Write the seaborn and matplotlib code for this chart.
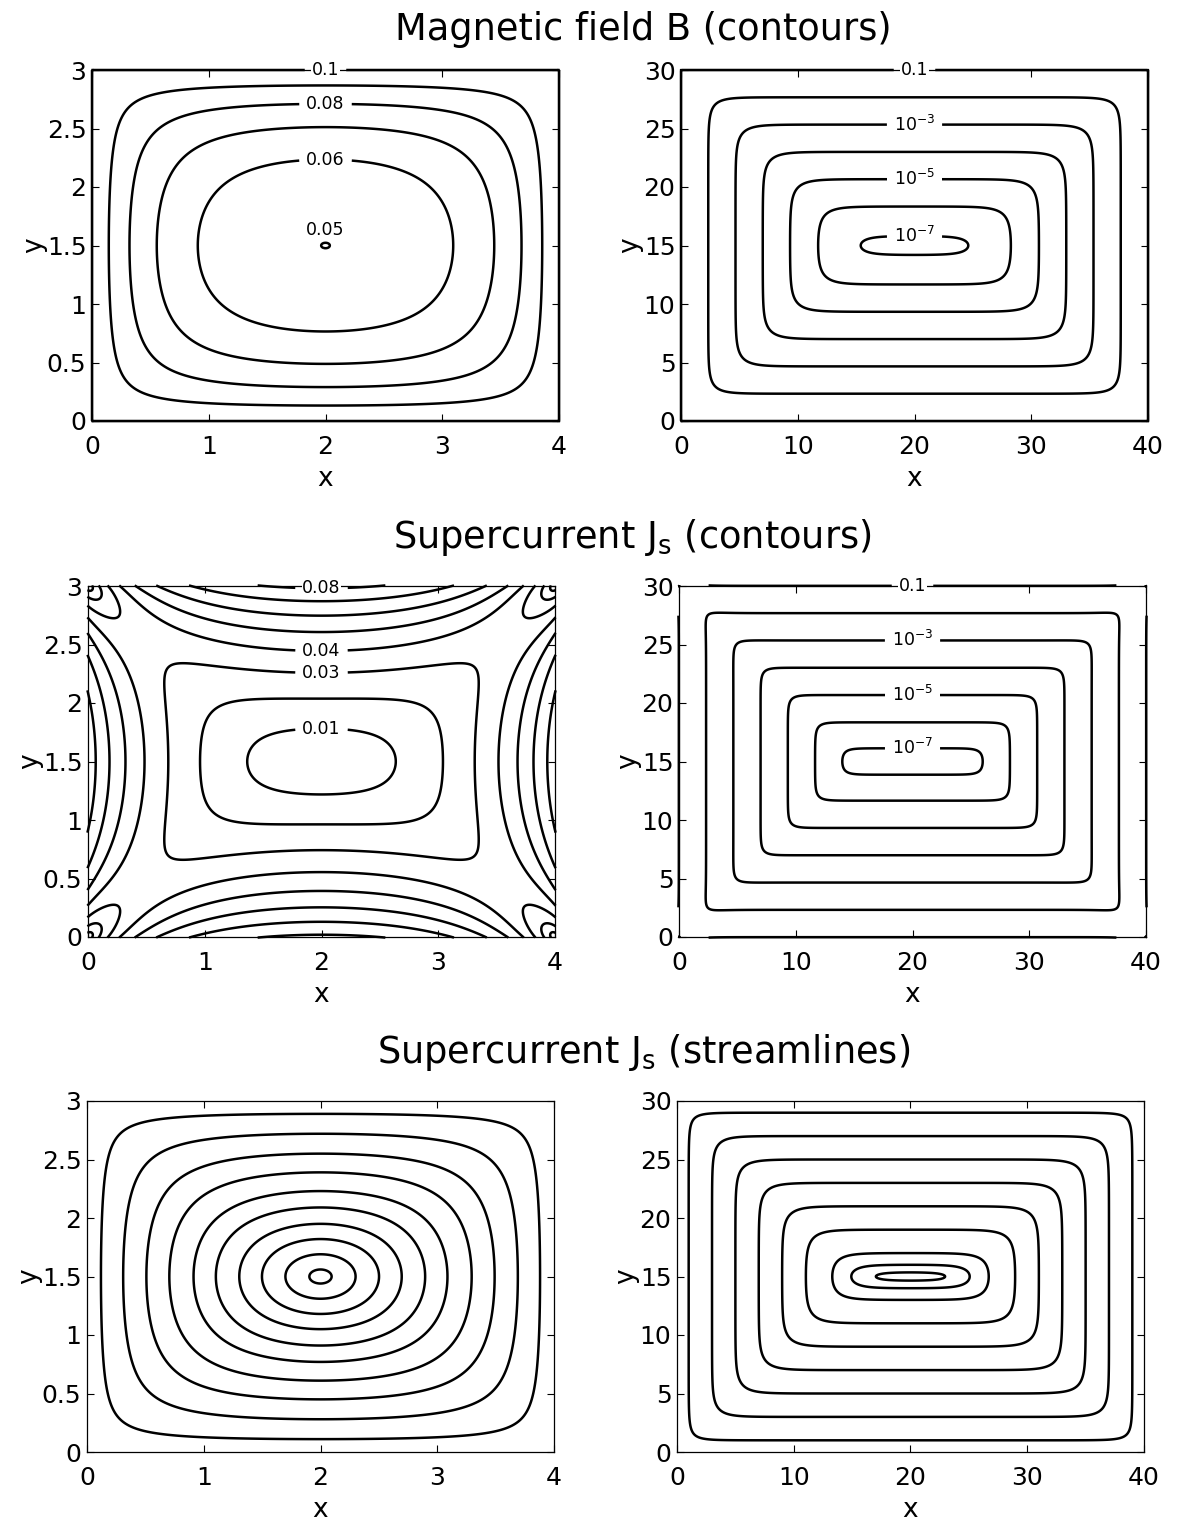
import numpy as np
import matplotlib
matplotlib.use("Agg")
import matplotlib.pyplot as plt
from matplotlib.ticker import FuncFormatter
import seaborn as sns

# ---------------------------------------------------------------------------
# Physical set-up: London equation  lap(B) = B / lambda^2  in a rectangle,
# with B = B_EDGE on the whole boundary.  Lengths are in units of lambda.
# ---------------------------------------------------------------------------
LAMBDA = 1.0135
B_EDGE = 0.1
small_size = (4.0, 3.0)
large_size = (40.0, 30.0)

# contour levels for the magnetic field
b_levels_small = [0.05, 0.06, 0.07, 0.08, 0.09, 0.1]
b_labeled_small = [0.06, 0.08, 0.1]
b_label_pos_small = [(2.0, 2.22), (2.0, 2.72), (2.0, 3.0)]
b_center_level = 0.05
b_center_text_pos = (2.0, 1.63)

log_levels = [1e-7, 1e-6, 1e-5, 1e-4, 1e-3, 1e-2, 0.1]
log_labeled = [1e-7, 1e-5, 1e-3, 0.1]
log_label_pos_b = [(20.0, 16.1), (20.0, 20.8), (20.0, 25.3), (20.0, 30.0)]
log_label_pos_j = [(20.0, 16.2), (20.0, 20.6), (20.0, 25.3), (20.0, 30.0)]

# contour levels for the supercurrent magnitude
j_levels_small = [0.01, 0.02, 0.03, 0.04, 0.05, 0.06, 0.07, 0.08]
j_labeled_small = [0.01, 0.03, 0.04, 0.08]
j_label_pos_small = [(2.0, 1.76), (2.0, 2.28), (2.0, 2.55), (2.0, 2.96)]

# streamline seed points (y on the vertical centre line x = a/2)
seeds_small = [1.56, 1.69, 1.82, 1.95, 2.09, 2.23, 2.39, 2.55, 2.72, 2.89]
seeds_large = [15.35, 16.0, 17.0, 19.0, 21.0, 23.0, 25.0, 27.0, 29.0]

# axis ticks
xticks_small = [0, 1, 2, 3, 4]
yticks_small = [0, 0.5, 1, 1.5, 2, 2.5, 3]
xticks_large = [0, 10, 20, 30, 40]
yticks_large = [0, 5, 10, 15, 20, 25, 30]

row_titles = ["Magnetic field B (contours)",
              r"Supercurrent J$_{\rm s}$ (contours)",
              r"Supercurrent J$_{\rm s}$ (streamlines)"]


def cosh_ratio(s, h):
    """cosh(s)/cosh(h) without overflow."""
    s = np.abs(s)
    return (np.exp(s - h) + np.exp(-s - h)) / (1.0 + np.exp(-2.0 * h))


def sinh_ratio(s, h):
    """sinh(s)/cosh(h) without overflow."""
    a = np.abs(s)
    return np.sign(s) * (np.exp(a - h) - np.exp(-a - h)) / (1.0 + np.exp(-2.0 * h))


def london_field(a, b, lam, b0, nx=801, ny=601, n_modes=1000):
    """Series solution of the London equation; returns x, y, B, |J|."""
    x = np.linspace(0.0, a, nx)
    y = np.linspace(0.0, b, ny)
    m = 2 * np.arange(n_modes) + 1
    k = m * np.pi / b
    q = np.sqrt(k ** 2 + lam ** -2)
    c = 4.0 / (m * np.pi) * lam ** -2 / (k ** 2 + lam ** -2)

    f = cosh_ratio((y - b / 2) / lam, b / (2 * lam))
    fp = sinh_ratio((y - b / 2) / lam, b / (2 * lam)) / lam

    s = np.outer(q, x - a / 2)
    h = (q * a / 2)[:, None]
    cx = cosh_ratio(s, h)
    sx = sinh_ratio(s, h) * q[:, None]
    sy = np.sin(np.outer(k, y)) * c[:, None]
    cy = np.cos(np.outer(k, y)) * (c * k)[:, None]

    B = b0 * (f[:, None] + sy.T @ cx)
    By = b0 * (fp[:, None] + cy.T @ cx)
    Bx = b0 * (sy.T @ sx)
    return x, y, B, np.hypot(Bx, By)


def pad_edges(x, y, Z):
    """Extend the grid by one cell on each side (linear extrapolation)."""
    hx, hy = x[1] - x[0], y[1] - y[0]
    xp = np.r_[x[0] - hx, x, x[-1] + hx]
    yp = np.r_[y[0] - hy, y, y[-1] + hy]
    Z = np.vstack([2 * Z[0] - Z[1], Z, 2 * Z[-1] - Z[-2]])
    Z = np.hstack([2 * Z[:, :1] - Z[:, 1:2], Z, 2 * Z[:, -1:] - Z[:, -2:-1]])
    return xp, yp, Z


def fmt_plain(v):
    return f"{v:g}"


def fmt_pow(v):
    if abs(v - 0.1) < 1e-12:
        return "0.1"
    return r"$10^{%d}$" % int(round(np.log10(v)))


# ---------------------------------------------------------------------------
sns.set_theme(style="ticks", rc={
    "xtick.direction": "in", "ytick.direction": "in",
    "xtick.top": True, "ytick.right": True,
    "axes.linewidth": 0.9, "axes.edgecolor": "black",
    "xtick.color": "black", "ytick.color": "black",
    "text.color": "black", "axes.labelcolor": "black",
})
plt.rcParams["font.family"] = ["DejaVu Sans"]
plt.rcParams["mathtext.fontset"] = "dejavusans"

W, H = 1183, 1526
fig = plt.figure(figsize=(W / 100, H / 100), dpi=100)
fig.patch.set_facecolor("white")


def new_axes(left_px, top_px, w_px=467, h_px=351):
    return fig.add_axes([left_px / W, 1 - (top_px + h_px) / H, w_px / W, h_px / H])


def style_axes(ax, size, xt, yt):
    ax.set_xlim(0, size[0])
    ax.set_ylim(0, size[1])
    ax.set_xticks(xt)
    ax.set_yticks(yt)
    fm = FuncFormatter(lambda v, p: f"{v:g}")
    ax.xaxis.set_major_formatter(fm)
    ax.yaxis.set_major_formatter(fm)
    ax.tick_params(axis="both", which="major", direction="in", length=5,
                   width=0.8, top=True, right=True, labelsize=18)
    ax.tick_params(axis="x", pad=10)
    ax.tick_params(axis="y", pad=4)
    ax.set_xlabel("x", fontsize=19, labelpad=5)
    ax.set_ylabel("y", fontsize=19, labelpad=0)
    ax.set_facecolor("white")


def draw_contours(ax, x, y, Z, levels, labeled=(), positions=None, fmt=fmt_plain):
    xp, yp, Zp = pad_edges(x, y, Z)
    plain = [v for v in levels if not any(np.isclose(v, labeled))]
    sets = []
    if plain:
        sets.append(ax.contour(xp, yp, Zp, levels=plain, colors="black",
                               linewidths=1.8, zorder=3))
    if len(labeled):
        cs = ax.contour(xp, yp, Zp, levels=sorted(labeled), colors="black",
                        linewidths=1.8, zorder=3)
        texts = cs.clabel(manual=positions, inline=True, inline_spacing=7,
                          fmt=fmt, fontsize=12.5)
        for t in texts:
            t.set_bbox(dict(facecolor="white", edgecolor="none", pad=0.3))
            t.set_zorder(5)
            t.set_clip_on(False)
        sets.append(cs)
    for cs in sets:
        cs.set_clip_on(False)


# fields
xs, ys, Bs, Js = london_field(*small_size, LAMBDA, B_EDGE)
xl, yl, Bl, Jl = london_field(*large_size, LAMBDA, B_EDGE)

# --- row 1: magnetic field ---------------------------------------------------
ax = new_axes(92, 70)
style_axes(ax, small_size, xticks_small, yticks_small)
draw_contours(ax, xs, ys, Bs, b_levels_small, b_labeled_small, b_label_pos_small)
ax.text(*b_center_text_pos, fmt_plain(b_center_level), ha="center", va="center",
        fontsize=12.5, zorder=5)

ax = new_axes(681, 70)
style_axes(ax, large_size, xticks_large, yticks_large)
draw_contours(ax, xl, yl, Bl, log_levels, log_labeled, log_label_pos_b, fmt_pow)

# --- row 2: supercurrent magnitude ------------------------------------------
ax = new_axes(88, 586)
style_axes(ax, small_size, xticks_small, yticks_small)
draw_contours(ax, xs, ys, Js, j_levels_small, j_labeled_small, j_label_pos_small)

ax = new_axes(679, 586)
style_axes(ax, large_size, xticks_large, yticks_large)
draw_contours(ax, xl, yl, Jl, log_levels, log_labeled, log_label_pos_j, fmt_pow)

# --- row 3: streamlines of J = level lines of B through the seed points -----
ic = len(xs) // 2
stream_levels_small = np.interp(seeds_small, ys, Bs[:, ic])
ax = new_axes(87, 1101)
style_axes(ax, small_size, xticks_small, yticks_small)
draw_contours(ax, xs, ys, Bs, list(stream_levels_small))

ic = len(xl) // 2
stream_levels_large = np.interp(seeds_large, yl, Bl[:, ic])
ax = new_axes(677, 1101)
style_axes(ax, large_size, xticks_large, yticks_large)
draw_contours(ax, xl, yl, Bl, list(stream_levels_large))

# row titles
for (cx, base), title in zip([(643, 40), (632, 548), (644, 1063)], row_titles):
    fig.text(cx / W, 1 - base / H, title, ha="center", va="baseline", fontsize=26.5)

fig.savefig("out.png", dpi=100, facecolor="white")
